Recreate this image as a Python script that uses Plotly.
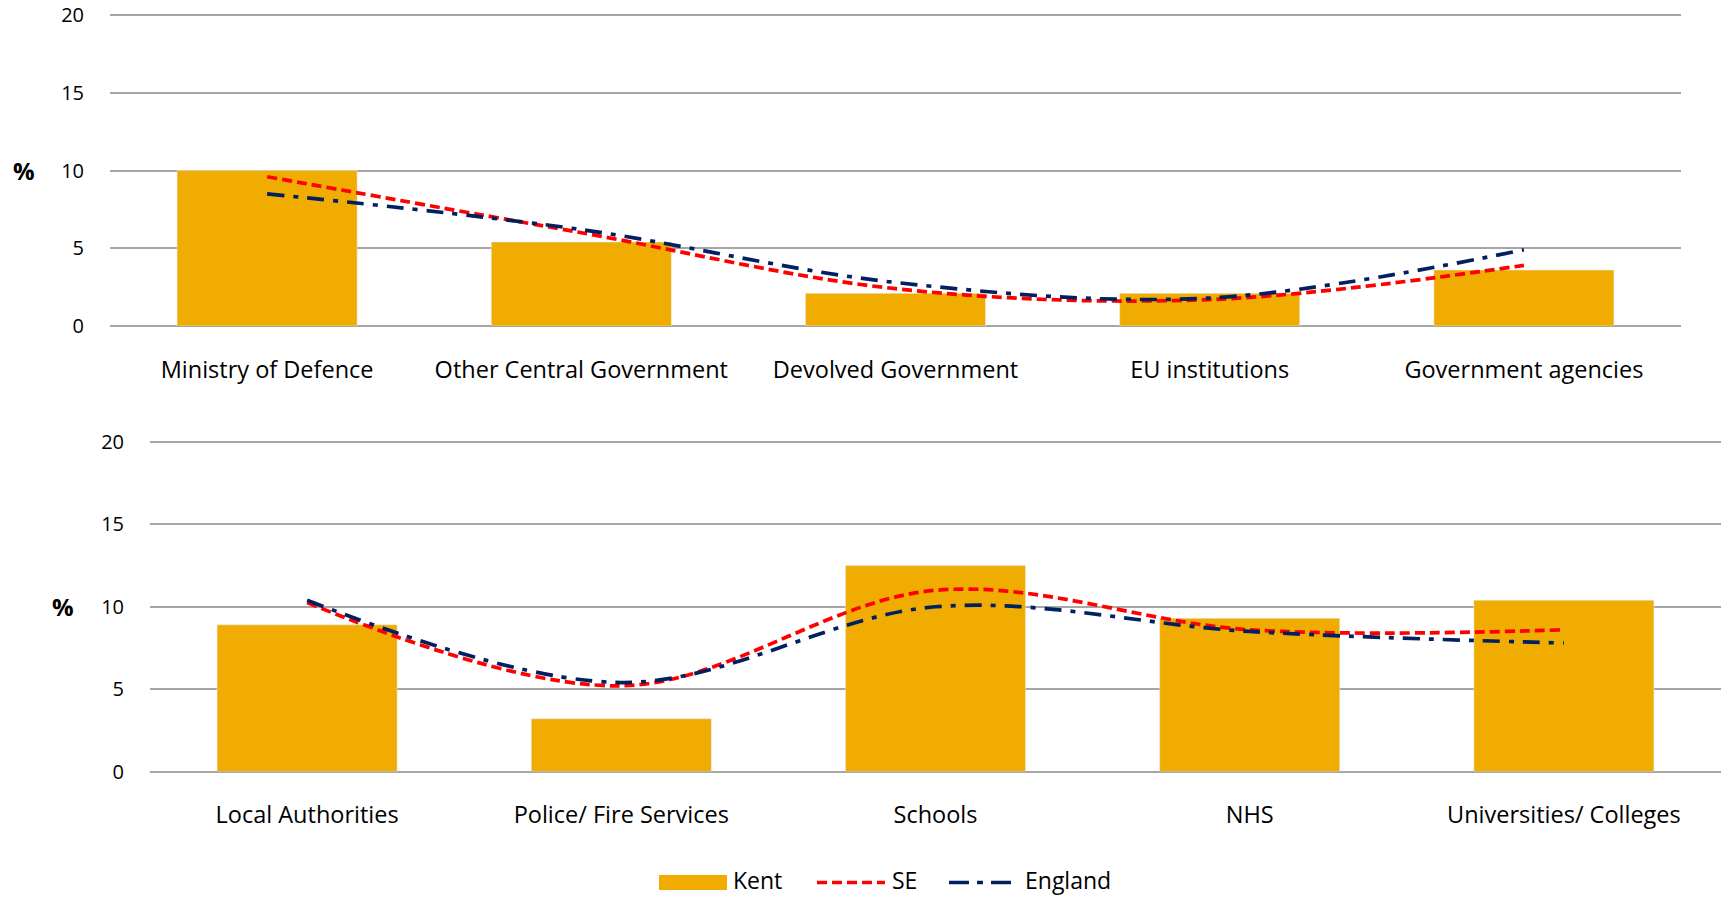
import plotly.graph_objects as go

# ---------------- data ----------------
top_cats = ["Ministry of Defence", "Other Central Government", "Devolved Government",
            "EU institutions", "Government agencies"]
top_kent = [10.0, 5.4, 2.1, 2.1, 3.6]
top_se = [9.6, 6.0, 2.4, 1.7, 3.9]
top_eng = [8.5, 6.2, 2.8, 1.8, 4.9]

bot_cats = ["Local Authorities", "Police/ Fire Services", "Schools", "NHS",
            "Universities/ Colleges"]
bot_kent = [8.9, 3.2, 12.5, 9.3, 10.4]
bot_se = [10.25, 5.2, 11.0, 8.6, 8.6]
bot_eng = [10.4, 5.4, 10.0, 8.5, 7.8]

y_ticks = [0, 5, 10, 15, 20]
series_names = ["Kent", "SE", "England"]

# ---------------- style ----------------
W, H = 1723, 897
KENT_C = "#F0AC00"
SE_C = "#FF0000"
ENG_C = "#002060"
GRID_C = "#A6A6A6"
FONT = "Open Sans"
SE_DASH = "10px,5px"
ENG_DASH = "17px,9px,5px,9px"
YMAX = 20.1

fig = go.Figure()

def add_panel(cats, kent, se, eng, xa, ya):
    fig.add_trace(go.Bar(x=cats, y=kent, name=series_names[0], marker_color=KENT_C,
                         width=0.573, xaxis=xa, yaxis=ya, showlegend=False))
    fig.add_trace(go.Scatter(x=cats, y=se, name=series_names[1], mode="lines",
                             line=dict(color=SE_C, width=3.7, dash=SE_DASH,
                                       shape="spline", smoothing=1.0),
                             xaxis=xa, yaxis=ya, showlegend=False))
    fig.add_trace(go.Scatter(x=cats, y=eng, name=series_names[2], mode="lines",
                             line=dict(color=ENG_C, width=3.7, dash=ENG_DASH,
                                       shape="spline", smoothing=1.0),
                             xaxis=xa, yaxis=ya, showlegend=False))

add_panel(top_cats, top_kent, top_se, top_eng, "x", "y")
add_panel(bot_cats, bot_kent, bot_se, bot_eng, "x2", "y2")

xcommon = dict(type="category", range=[-0.5, 4.5], showgrid=False, showline=False,
               zeroline=False, ticks="", automargin=False,
               tickfont=dict(family=FONT, size=23.5, color="#000000"),
               ticklabelstandoff=27)
ycommon = dict(range=[0, YMAX], tickvals=y_ticks, showgrid=True, gridcolor=GRID_C,
               gridwidth=1.5, zeroline=True, zerolinecolor=GRID_C, zerolinewidth=1.5,
               showline=False, ticks="", automargin=False,
               tickfont=dict(family=FONT, size=20, color="#000000"),
               ticklabelstandoff=25, fixedrange=True)

# pixel positions of the 0 and 20 gridlines
top_y0, top_y20 = 326.0, 15.0
bot_y0, bot_y20 = 771.5, 442.0
top_yt = top_y0 - (top_y0 - top_y20) * YMAX / 20
bot_yt = bot_y0 - (bot_y0 - bot_y20) * YMAX / 20

fig.update_layout(
    width=W, height=H,
    margin=dict(l=0, r=0, t=0, b=0, pad=0, autoexpand=False),
    paper_bgcolor="white", plot_bgcolor="white",
    barmode="overlay",
    showlegend=False,
    font=dict(family=FONT, color="#000000"),
    xaxis=dict(domain=[110 / W, 1681 / W], anchor="y", **xcommon),
    yaxis=dict(domain=[1 - top_y0 / H, 1 - top_yt / H], anchor="x", **ycommon),
    xaxis2=dict(domain=[150 / W, 1721 / W], anchor="y2", **xcommon),
    yaxis2=dict(domain=[1 - bot_y0 / H, 1 - bot_yt / H], anchor="x2", **ycommon),
)

# "%" axis labels
fig.add_annotation(text="<b>%</b>", xref="paper", yref="y", x=24 / W, y=10,
                   xanchor="center", yanchor="middle",
                   showarrow=False, font=dict(family=FONT, size=24, color="#000000"))
fig.add_annotation(text="<b>%</b>", xref="paper", yref="y2", x=62.5 / W, y=10,
                   xanchor="center", yanchor="middle",
                   showarrow=False, font=dict(family=FONT, size=24, color="#000000"))

# manual legend
def py(v):
    return 1 - v / H

ly = 882.5
ty = 880.0
fig.add_shape(type="rect", xref="paper", yref="paper", x0=659 / W, x1=727 / W,
              y0=py(890), y1=py(875), fillcolor=KENT_C, line=dict(width=0))
fig.add_shape(type="line", xref="paper", yref="paper", x0=817 / W, x1=885 / W,
              y0=py(ly), y1=py(ly), line=dict(color=SE_C, width=3.7, dash=SE_DASH))
fig.add_shape(type="line", xref="paper", yref="paper", x0=949 / W, x1=1011 / W,
              y0=py(ly), y1=py(ly), line=dict(color=ENG_C, width=3.7, dash="20px,8px,6px,8px"))
for txt, xpx in zip(series_names, [732, 891, 1024]):
    fig.add_annotation(text=txt, xref="paper", yref="paper", x=xpx / W, y=py(ty),
                       xanchor="left", yanchor="middle", showarrow=False, borderpad=0,
                       font=dict(family=FONT, size=23, color="#000000"))

fig.write_html("out.html", config={"displayModeBar": False},
               post_script="document.body.style.margin='0';")
